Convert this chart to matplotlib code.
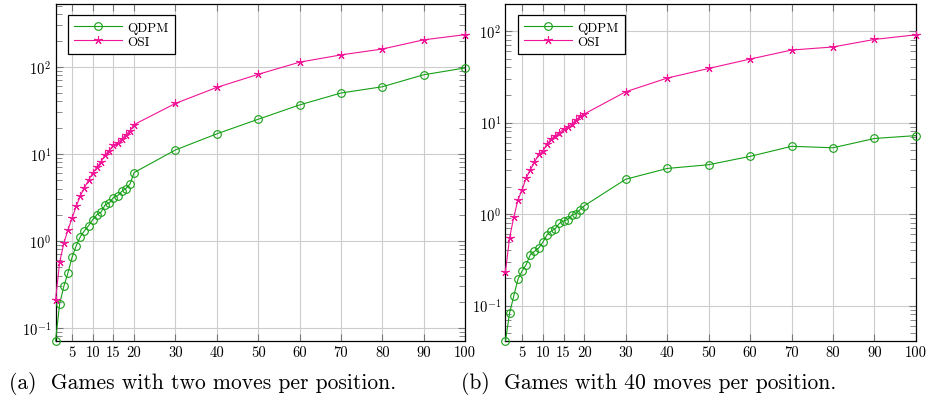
import matplotlib
matplotlib.use('Agg')
import matplotlib.pyplot as plt
import matplotlib.ticker as mticker
import numpy as np

plt.rcParams['font.family'] = ['cmr10', 'DejaVu Serif']
plt.rcParams['mathtext.fontset'] = 'cm'
plt.rcParams['axes.formatter.use_mathtext'] = True

# positions per game size
x = list(range(1, 21)) + [30, 40, 50, 60, 70, 80, 90, 100]

# (a) two moves per position
qdpm_a = [0.071, 0.19, 0.30, 0.43, 0.65, 0.88, 1.12, 1.31, 1.5, 1.76,
          2.0, 2.14, 2.6, 2.73, 3.15, 3.3, 3.7, 4.0, 4.5, 6.1,
          11.1, 17.0, 25.0, 36.5, 50.0, 59.0, 81.0, 97.0]
osi_a = [0.21, 0.57, 0.94, 1.34, 1.82, 2.5, 3.3, 4.1, 5.0, 6.0,
         7.0, 8.1, 9.8, 10.9, 12.6, 13.4, 14.8, 16.6, 18.4, 21.7,
         38.0, 58.0, 82.0, 113.0, 137.0, 160.0, 204.0, 234.0]

# (b) 40 moves per position
qdpm_b = [0.041, 0.083, 0.127, 0.193, 0.238, 0.28, 0.36, 0.39, 0.425, 0.49,
          0.59, 0.65, 0.69, 0.79, 0.84, 0.87, 0.97, 1.01, 1.12, 1.23,
          2.4, 3.15, 3.46, 4.27, 5.5, 5.3, 6.7, 7.2]
osi_b = [0.234, 0.55, 0.92, 1.42, 1.84, 2.47, 3.05, 3.67, 4.5, 4.84,
         5.8, 6.55, 7.2, 7.7, 8.5, 8.9, 9.7, 10.6, 11.7, 12.4,
         21.7, 30.6, 39.0, 49.4, 62.0, 67.0, 81.0, 91.0]

xticks = [5, 10, 15, 20, 30, 40, 50, 60, 70, 80, 90, 100]
captions = ['(a)  Games with two moves per position.',
            '(b)  Games with 40 moves per position.']

green = '#16a016'
magenta = '#f01496'

fig = plt.figure(figsize=(9.3, 4.02), dpi=100)
ax1 = fig.add_axes([0.0597, 0.1493, 0.4403, 0.838])
ax2 = fig.add_axes([0.5435, 0.1493, 0.4414, 0.838])


def style(ax, ylim):
    ax.set_yscale('log')
    ax.set_xlim(1, 100)
    ax.set_ylim(*ylim)
    ax.set_xticks(xticks)
    ax.set_xticklabels([str(t) for t in xticks])
    ax.yaxis.set_major_locator(mticker.LogLocator(base=10))
    ax.yaxis.set_minor_locator(mticker.LogLocator(base=10, subs=np.arange(2, 10)))
    ax.yaxis.set_minor_formatter(mticker.NullFormatter())
    ax.grid(True, which='major', color='#cccccc', lw=0.8)
    ax.set_axisbelow(True)
    ax.tick_params(which='both', direction='in', top=True, right=True,
                   color='#777777', labelsize=10.5, pad=3)
    ax.tick_params(which='major', length=5, width=0.8)
    ax.tick_params(which='minor', length=4, width=0.6)
    for s in ax.spines.values():
        s.set_linewidth(0.9)


def draw(ax, q, o):
    ax.plot(x, q, color=green, lw=0.8, marker='o', ms=5.5, mfc='none',
            mew=0.8, label='QDPM', clip_on=False, zorder=3)
    ax.plot(x, o, color=magenta, lw=0.8, marker=(5, 2, 0), ms=6,
            mew=0.8, label='OSI', clip_on=False, zorder=3)
    leg = ax.legend(loc='upper left', bbox_to_anchor=(0.03, 0.967),
                    fontsize=9.5, frameon=True, fancybox=False,
                    edgecolor='black', framealpha=1, handlelength=3.6,
                    borderpad=0.5, labelspacing=0.12, handletextpad=0.4,
                    borderaxespad=0)
    leg.get_frame().set_linewidth(0.9)


style(ax1, (0.071, 525))
draw(ax1, qdpm_a, osi_a)
style(ax2, (0.041, 197))
draw(ax2, qdpm_b, osi_b)

fig.text(0.010, 0.045, captions[0], fontsize=15.5, va='center', ha='left')
fig.text(0.496, 0.045, captions[1], fontsize=15.5, va='center', ha='left')

fig.savefig('out.png', dpi=100)
